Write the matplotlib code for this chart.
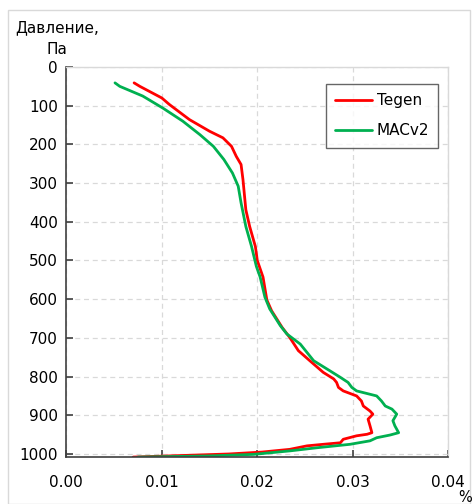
import matplotlib
matplotlib.use("Agg")
import matplotlib.pyplot as plt
from matplotlib.patches import Rectangle
from matplotlib.ticker import FormatStrFormatter, MultipleLocator

# Vertical profiles: pressure level (hPa) and value (%)
tegen_p = [41, 50, 80, 97, 136, 166, 183, 205, 231, 252, 291, 369, 412, 464,
           500, 543, 602, 630, 673, 699, 733, 759, 789, 806, 815, 828, 837, 850,
           863, 876, 889, 897, 910, 927, 945, 949, 953, 962, 971, 975, 979, 988,
           995, 1000, 1004, 1008]
tegen_v = [0.0071, 0.0077, 0.0100, 0.0108, 0.0129, 0.0150, 0.0164, 0.0173,
           0.0178, 0.0183, 0.0185, 0.0188, 0.0192, 0.0198, 0.0200, 0.0206,
           0.0210, 0.0215, 0.0226, 0.0234, 0.0243, 0.0255, 0.0269, 0.0280,
           0.0283, 0.0285, 0.0290, 0.0304, 0.0309, 0.0311, 0.0318, 0.0321,
           0.0316, 0.0318, 0.0320, 0.0315, 0.0304, 0.0290, 0.0287, 0.0269,
           0.0252, 0.0234, 0.0205, 0.0170, 0.0120, 0.0070]

macv2_p = [41, 50, 75, 106, 140, 175, 205, 239, 274, 308, 351, 412, 464, 515,
           543, 595, 625, 668, 690, 716, 759, 785, 802, 815, 828, 837, 850, 863,
           876, 884, 897, 914, 927, 945, 951, 958, 966, 975, 984, 992, 1001,
           1005, 1008]
macv2_v = [0.0051, 0.0056, 0.0080, 0.0101, 0.0122, 0.0140, 0.0154, 0.0165,
           0.0174, 0.0180, 0.0183, 0.0188, 0.0194, 0.0199, 0.0203, 0.0208,
           0.0213, 0.0224, 0.0231, 0.0245, 0.0259, 0.0276, 0.0287, 0.0295,
           0.0299, 0.0304, 0.0325, 0.0330, 0.0334, 0.0341, 0.0346, 0.0342,
           0.0344, 0.0348, 0.0339, 0.0325, 0.0318, 0.0297, 0.0262, 0.0234,
           0.0196, 0.0150, 0.0075]

series_names = ["Tegen", "MACv2"]
series_colors = ["#FF0000", "#00B050"]

fig = plt.figure(figsize=(4.73, 5.04), dpi=100)
W, H = 473, 504

# light outer chart frame
fig.patches.append(Rectangle((8 / W, 0), (470 - 8) / W, 1 - 10 / H,
                             transform=fig.transFigure, fill=False,
                             edgecolor="#D9D9D9", linewidth=1.0))

ax = fig.add_axes([66.3 / W, 1 - 456.7 / H, (448.3 - 66.3) / W, (456.7 - 67) / H])

ax.plot(tegen_v, tegen_p, color=series_colors[0], lw=2.0, label=series_names[0],
        solid_capstyle="round", solid_joinstyle="round")
ax.plot(macv2_v, macv2_p, color=series_colors[1], lw=2.0, label=series_names[1],
        solid_capstyle="round", solid_joinstyle="round")

ax.set_xlim(0, 0.04)
ax.set_ylim(1007, 0)
ax.xaxis.set_major_locator(MultipleLocator(0.01))
ax.xaxis.set_major_formatter(FormatStrFormatter("%.2f"))
ax.yaxis.set_major_locator(MultipleLocator(100))

ax.grid(True, color="#D9D9D9", linestyle=(0, (4, 3)), linewidth=0.9)
ax.set_axisbelow(True)

for side in ("top", "right"):
    ax.spines[side].set_color("#D9D9D9")
    ax.spines[side].set_linewidth(1.0)
for side in ("left", "bottom"):
    ax.spines[side].set_color("#404040")
    ax.spines[side].set_linewidth(1.2)

ax.tick_params(axis="both", direction="in", length=5, width=1.2, color="#404040",
               labelsize=11, labelcolor="#000000")
ax.tick_params(axis="x", pad=13)
ax.tick_params(axis="y", pad=6)

leg = ax.legend(loc="upper right", bbox_to_anchor=(438.3 / W, 1 - 84 / H),
                bbox_transform=fig.transFigure, fontsize=11, frameon=True,
                fancybox=False, edgecolor="#404040", handlelength=2.4,
                handletextpad=0.3, labelspacing=1.0, borderpad=0.6,
                borderaxespad=0)
leg.get_frame().set_linewidth(1.0)

fig.text(57 / W, 1 - 28 / H, "Давление,", ha="center", va="center", fontsize=11)
fig.text(57 / W, 1 - 50 / H, "Па", ha="center", va="center", fontsize=11)
fig.text(465 / W, 1 - 497 / H, "%", ha="center", va="center", fontsize=10.5)

fig.savefig("out.png", dpi=100)
